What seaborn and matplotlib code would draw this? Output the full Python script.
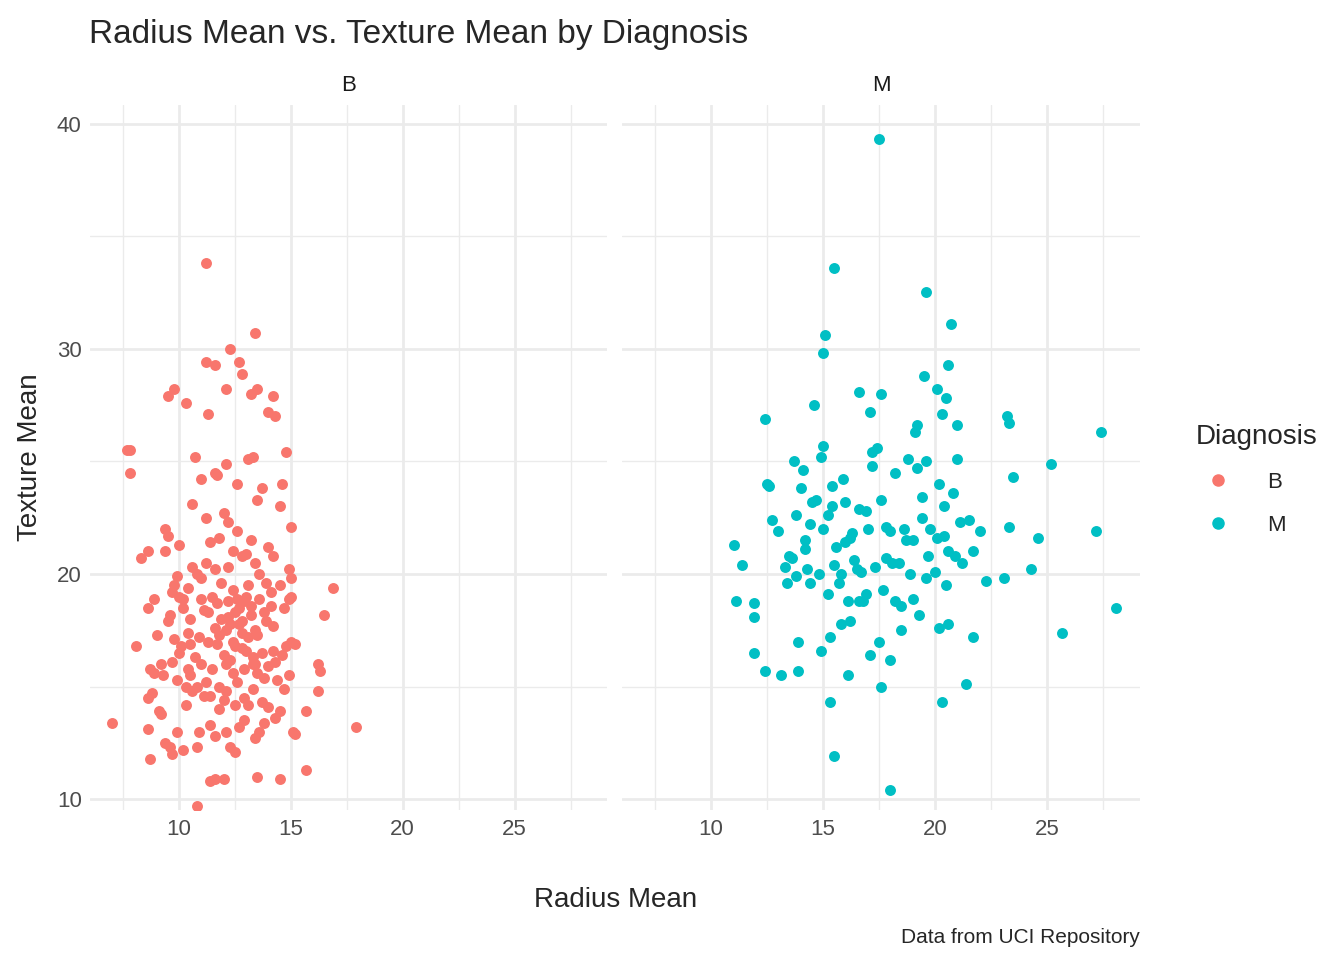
import matplotlib
matplotlib.use("Agg")
import matplotlib.pyplot as plt
from matplotlib.lines import Line2D
import seaborn as sns
import pandas as pd

# benign (B) points
b_radius = [
    7.0, 7.7, 7.8, 7.8, 11.2, 13.4, 12.3, 11.2, 11.6, 12.7,
    12.8, 9.8, 9.5, 12.1, 13.5, 13.2, 14.2, 10.3, 11.3, 14.0,
    14.3, 17.9, 16.9, 16.5, 16.2, 16.3, 16.2, 15.7, 15.7, 14.5,
    13.5, 11.6, 11.4, 12.0, 10.8, 8.7, 8.1, 8.3, 8.6, 9.4,
    9.5, 9.4, 10.0, 10.6, 10.7, 11.0, 11.2, 12.2, 13.1, 13.3,
    14.8, 14.6, 13.7, 14.5, 15.0, 12.6, 13.5, 12.1, 11.6, 11.7,
    8.6, 8.9, 9.0, 9.2, 9.3, 9.7, 9.9, 10.2, 10.4, 10.5,
    8.7, 8.9, 8.6, 8.8, 9.1, 9.2, 9.4, 9.6, 9.7, 9.9,
    8.6, 10.2, 10.3, 10.8, 10.9, 11.1, 11.4, 11.6, 11.8, 12.1,
    12.3, 12.5, 12.7, 12.9, 13.1, 13.4, 13.6, 13.8, 14.0, 14.3,
    14.5, 14.7, 14.9, 15.1, 15.2, 14.8, 14.6, 15.0, 15.2, 14.9,
    15.0, 14.9, 15.0, 14.7, 14.5, 14.2, 14.0, 13.9, 13.6, 13.4,
    13.2, 13.0, 12.8, 12.6, 12.4, 12.2, 12.0, 11.8, 11.6, 11.4,
    11.2, 11.0, 10.8, 10.6, 10.4, 10.2, 10.0, 9.8, 9.6, 9.5,
    10.5, 10.7, 10.9, 11.1, 11.3, 11.5, 11.7, 11.9, 12.1, 12.3,
    12.5, 12.7, 12.9, 13.1, 13.3, 13.5, 13.7, 13.9, 14.1, 14.3,
    10.6, 10.8, 11.0, 11.2, 11.4, 11.6, 11.8, 12.0, 12.2, 12.4,
    12.6, 12.8, 13.0, 13.2, 13.4, 13.6, 13.8, 14.0, 14.2, 14.4,
    11.5, 11.9, 12.3, 12.7, 13.1, 13.5, 12.1, 12.5, 12.9, 13.3,
    11.3, 11.7, 12.1, 12.5, 12.9, 13.3, 13.7, 14.1, 11.0, 10.0,
    9.9, 10.1, 10.3, 10.5, 9.7, 9.8, 10.4, 12.4, 12.8, 13.2,
    11.8, 12.2, 12.6, 13.0, 13.4, 13.8, 14.2, 12.0, 12.4, 12.8,
]
b_texture = [
    13.4, 25.5, 25.5, 24.5, 33.8, 30.7, 30.0, 29.4, 29.3, 29.4,
    28.9, 28.2, 27.9, 28.2, 28.2, 28.0, 27.9, 27.6, 27.1, 27.2,
    27.0, 13.2, 19.4, 18.2, 16.0, 15.7, 14.8, 13.9, 11.3, 10.9,
    11.0, 10.9, 10.8, 10.9, 9.7, 11.8, 16.8, 20.7, 21.0, 22.0,
    21.7, 21.0, 21.3, 23.1, 25.2, 24.2, 22.5, 22.3, 25.1, 25.2,
    25.4, 24.0, 23.8, 23.0, 22.1, 24.0, 23.3, 24.9, 24.5, 24.4,
    18.5, 18.9, 17.3, 16.0, 15.5, 19.2, 19.9, 18.5, 17.4, 16.9,
    15.8, 15.6, 14.5, 14.7, 13.9, 13.8, 12.5, 12.3, 12.0, 13.0,
    13.1, 12.2, 15.0, 12.3, 13.0, 14.6, 13.3, 12.8, 14.0, 13.0,
    12.3, 12.1, 13.2, 13.5, 14.2, 12.7, 13.0, 13.4, 14.1, 13.6,
    13.9, 14.9, 15.5, 13.0, 12.9, 16.8, 16.4, 17.0, 16.9, 18.9,
    19.0, 20.2, 19.8, 18.5, 19.5, 20.8, 21.2, 19.6, 20.0, 20.5,
    21.5, 20.9, 20.8, 21.9, 21.0, 20.3, 22.7, 21.6, 20.2, 21.4,
    20.5, 19.8, 20.0, 20.3, 19.4, 18.9, 19.0, 19.5, 18.2, 17.9,
    15.5, 16.3, 17.2, 18.4, 17.0, 15.8, 16.9, 18.0, 17.5, 16.2,
    18.3, 17.8, 18.8, 17.2, 16.0, 15.6, 16.5, 17.9, 18.6, 16.1,
    14.8, 15.0, 16.0, 15.2, 14.6, 17.6, 15.0, 14.4, 18.8, 19.3,
    15.2, 16.7, 19.0, 18.2, 17.5, 18.9, 15.4, 15.9, 16.6, 15.3,
    19.0, 19.6, 17.8, 18.5, 19.5, 17.3, 16.0, 16.8, 15.8, 16.3,
    18.3, 18.7, 14.8, 14.2, 14.5, 14.9, 14.3, 19.2, 18.9, 16.5,
    15.3, 16.8, 14.2, 18.0, 16.1, 17.1, 15.8, 17.0, 17.4, 18.6,
    17.3, 18.1, 18.9, 16.6, 16.0, 18.3, 17.7, 16.4, 15.6, 17.9,
]

# malignant (M) points
m_radius = [
    17.5, 15.5, 19.6, 20.7, 15.1, 15.0, 20.6, 19.5, 16.6, 17.6,
    20.1, 20.5, 14.6, 17.1, 12.4, 23.2, 23.3, 27.4, 20.3, 21.0,
    19.2, 25.2, 23.5, 24.6, 27.2, 28.1, 25.7, 24.3, 23.1, 23.3,
    22.3, 21.4, 20.3, 18.0, 15.5, 15.3, 17.6, 16.1, 13.1, 12.4,
    13.9, 11.9, 11.4, 11.0, 11.1, 11.9, 11.9, 12.5, 12.7, 13.7,
    12.6, 13.0, 13.3, 13.5, 13.8, 14.0, 14.2, 14.4, 14.7, 14.9,
    15.0, 15.2, 15.4, 15.6, 15.8, 16.0, 16.2, 16.4, 16.6, 16.8,
    17.0, 17.2, 17.4, 17.6, 17.8, 18.0, 18.2, 18.4, 18.6, 18.8,
    19.0, 19.2, 19.4, 19.6, 19.8, 20.0, 20.2, 20.4, 20.6, 20.8,
    21.0, 21.2, 21.5, 21.7, 22.0, 20.6, 20.2, 19.6, 19.0, 18.5,
    18.0, 17.5, 17.1, 16.6, 16.2, 15.8, 15.3, 14.9, 14.4, 13.9,
    13.4, 13.8, 14.3, 14.8, 15.2, 15.7, 16.1, 16.5, 16.9, 17.3,
    17.7, 18.1, 18.5, 18.9, 19.3, 19.7, 20.1, 20.5, 20.9, 21.7,
    14.1, 14.5, 15.0, 15.4, 15.9, 16.3, 16.7, 17.2, 18.2, 19.1,
    13.6, 14.2, 15.5, 16.0, 16.9, 17.8, 18.7, 19.4, 20.4, 21.1,
]
m_texture = [
    39.3, 33.6, 32.5, 31.1, 30.6, 29.8, 29.3, 28.8, 28.1, 28.0,
    28.2, 27.8, 27.5, 27.2, 26.9, 27.0, 26.7, 26.3, 27.1, 26.6,
    26.6, 24.9, 24.3, 21.6, 21.9, 18.5, 17.4, 20.2, 19.8, 22.1,
    19.7, 15.1, 14.3, 10.4, 11.9, 14.3, 15.0, 15.5, 15.5, 15.7,
    15.7, 16.5, 20.4, 21.3, 18.8, 18.7, 18.1, 24.0, 22.4, 25.0,
    23.9, 21.9, 20.3, 20.8, 22.6, 23.8, 21.5, 22.2, 23.3, 25.2,
    25.7, 22.6, 23.9, 21.2, 20.0, 23.2, 21.6, 20.6, 22.9, 18.8,
    22.0, 25.4, 25.6, 23.3, 20.7, 21.9, 18.8, 20.5, 22.0, 25.1,
    21.5, 24.7, 23.4, 25.0, 22.0, 20.1, 24.0, 21.7, 21.0, 23.6,
    25.1, 20.5, 22.4, 21.0, 21.9, 17.8, 17.6, 19.8, 18.9, 17.5,
    16.2, 17.0, 16.4, 18.8, 17.9, 17.8, 17.2, 16.6, 19.6, 17.0,
    19.6, 19.9, 20.2, 20.0, 19.1, 19.6, 18.8, 20.2, 19.1, 20.3,
    19.3, 20.5, 18.6, 20.0, 18.2, 20.8, 21.6, 19.5, 20.8, 17.2,
    24.6, 23.2, 22.0, 23.0, 24.2, 21.8, 20.1, 24.8, 24.5, 26.3,
    20.7, 21.1, 20.4, 21.4, 22.8, 22.1, 21.5, 22.5, 23.0, 22.3,
]

diagnoses = ["B", "M"]
colors = {"B": "#F8766D", "M": "#00BFC4"}

df = pd.concat([
    pd.DataFrame({"radius": b_radius, "texture": b_texture, "diagnosis": "B"}),
    pd.DataFrame({"radius": m_radius, "texture": m_texture, "diagnosis": "M"}),
])

sns.set_theme(style="white")
plt.rcParams["font.family"] = ["Liberation Sans", "DejaVu Sans"]

fig = plt.figure(figsize=(13.44, 9.6), dpi=100)
axes = [fig.add_axes([0.067, 0.156, 0.385, 0.735]),
        fig.add_axes([0.463, 0.156, 0.385, 0.735])]

for ax, d in zip(axes, diagnoses):
    sub = df[df["diagnosis"] == d]
    sns.scatterplot(ax=ax, data=sub, x="radius", y="texture", color=colors[d],
                    s=62, linewidth=0, legend=False, zorder=3)
    ax.set_xlim(6.03, 29.15)
    ax.set_ylim(9.51, 40.84)
    ax.set_xticks([10, 15, 20, 25])
    ax.set_xticks([7.5, 12.5, 17.5, 22.5, 27.5], minor=True)
    ax.set_yticks([10, 20, 30, 40])
    ax.set_yticks([15, 25, 35], minor=True)
    ax.grid(which="major", color="#EBEBEB", linewidth=2.0, zorder=0)
    ax.grid(which="minor", color="#EBEBEB", linewidth=1.0, zorder=0)
    ax.set_axisbelow(True)
    for sp in ax.spines.values():
        sp.set_visible(False)
    ax.tick_params(axis="both", which="both", length=0, labelsize=16,
                   labelcolor="#4D4D4D", pad=6)
    ax.set_title(d, fontsize=16, color="#1A1A1A", pad=10)
    ax.set_xlabel("")
    ax.set_ylabel("")

axes[1].tick_params(axis="y", labelleft=False)
axes[0].set_ylabel("Texture Mean", fontsize=20, labelpad=10)

fig.text(0.458, 0.055, "Radius Mean", fontsize=20, ha="center")
fig.text(0.066, 0.955, "Radius Mean vs. Texture Mean by Diagnosis",
         fontsize=24, ha="left")
fig.text(0.848, 0.018, "Data from UCI Repository", fontsize=15, ha="right")

handles = [Line2D([], [], marker="o", linestyle="", color=colors[d],
                  markersize=8, label=d) for d in diagnoses]
leg = fig.legend(handles=handles, title="Diagnosis", loc="center left",
                 bbox_to_anchor=(0.875, 0.5), frameon=False, fontsize=16,
                 title_fontsize=20, handletextpad=1.2, labelspacing=1.0)
leg._legend_box.align = "left"

fig.savefig("out.png", dpi=100)
